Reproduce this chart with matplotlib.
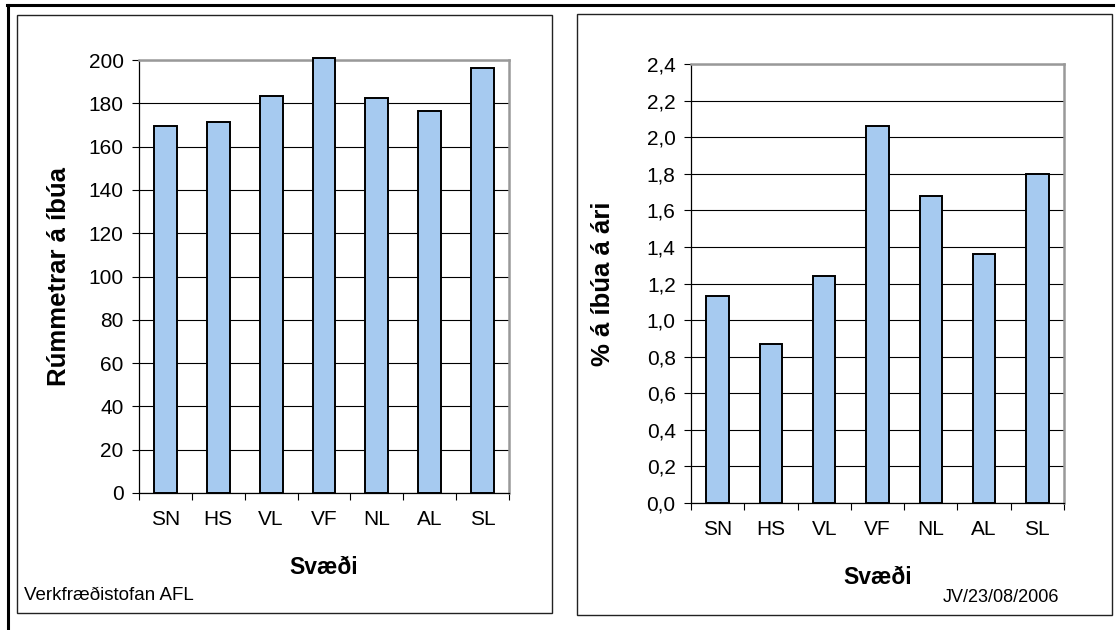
import matplotlib.pyplot as plt
from matplotlib.patches import Rectangle
from matplotlib.lines import Line2D
from matplotlib.ticker import FuncFormatter

plt.rcParams['font.family'] = ['Liberation Sans', 'DejaVu Sans']

svaedi = ['SN', 'HS', 'VL', 'VF', 'NL', 'AL', 'SL']
rummetrar = [169.5, 171.5, 183.5, 200.8, 182.5, 176.5, 196.5]
hlutfall = [1.13, 0.87, 1.24, 2.06, 1.68, 1.36, 1.80]

W, H = 1118, 630
fig = plt.figure(figsize=(W / 100, H / 100), dpi=100)

def fx(px):
    return px / W

def fy(py):
    return 1 - py / H

# outer frame lines (top and left)
fig.add_artist(Line2D([fx(7), fx(1113)], [fy(5), fy(5)], color='black', lw=2.2))
fig.add_artist(Line2D([fx(8), fx(8)], [fy(5), fy(630)], color='black', lw=2.2))

# panel boxes
for x0, y0, x1, y1 in [(17, 15, 552, 613), (577, 14, 1112, 615)]:
    fig.add_artist(Rectangle((fx(x0), fy(y1)), fx(x1 - x0), (y1 - y0) / H,
                             fill=False, edgecolor='#222222', lw=1.0))

bar_color = '#A6CAF0'

def style_axes(ax, ymax, ystep, fmt):
    ax.set_xlim(-0.5, 6.5)
    ax.set_ylim(0, ymax)
    ticks = [i * ystep for i in range(int(round(ymax / ystep)) + 1)]
    ax.set_yticks(ticks)
    ax.yaxis.set_major_formatter(FuncFormatter(fmt))
    ax.set_xticks(range(len(svaedi)))
    ax.set_xticklabels(svaedi)
    ax.set_xticks([i - 0.5 for i in range(len(svaedi) + 1)], minor=True)
    ax.tick_params(axis='x', which='major', length=0, pad=12, labelsize=15)
    ax.tick_params(axis='x', which='minor', length=5, width=0.8, direction='out')
    ax.tick_params(axis='y', length=5, width=0.8, direction='out', pad=6, labelsize=15)
    ax.yaxis.grid(True, color='black', lw=0.8)
    ax.set_axisbelow(True)
    for s in ['top', 'right']:
        ax.spines[s].set_color('#999999')
        ax.spines[s].set_linewidth(1.8)
    for s in ['left', 'bottom']:
        ax.spines[s].set_color('black')
        ax.spines[s].set_linewidth(0.9)

def labels(ax, ylabel, ylx, xly):
    ax.set_ylabel(ylabel, fontsize=18.5, fontweight='bold', va='center')
    ax.yaxis.set_label_coords(ylx, 0.5)
    ax.set_xlabel('Svæði', fontsize=16.5, fontweight='bold', va='center')
    ax.xaxis.set_label_coords(0.5, xly)

# left chart
ax1 = fig.add_axes([fx(139), fy(493), fx(509 - 139), (493 - 60) / H])
ax1.bar(range(len(svaedi)), rummetrar, width=0.43, color=bar_color,
        edgecolor='black', linewidth=1.4, clip_on=False, zorder=3)
style_axes(ax1, 200, 20, lambda v, p: f'{v:.0f}')
labels(ax1, 'Rúmmetrar á íbúa', -0.216, -0.173)

# right chart
ax2 = fig.add_axes([fx(691), fy(503), fx(1064 - 691), (503 - 64) / H])
ax2.bar(range(len(svaedi)), hlutfall, width=0.42, color=bar_color,
        edgecolor='black', linewidth=1.4, clip_on=False, zorder=3)
style_axes(ax2, 2.4, 0.2, lambda v, p: f'{v:.1f}'.replace('.', ','))
labels(ax2, '% á íbúa á ári', -0.236, -0.169)

fig.text(fx(24), fy(595), 'Verkfræðistofan AFL', fontsize=13.5, ha='left', va='center')
fig.text(fx(1059), fy(598), 'JV/23/08/2006', fontsize=13, ha='right', va='center')

fig.savefig('out.png', dpi=100)
